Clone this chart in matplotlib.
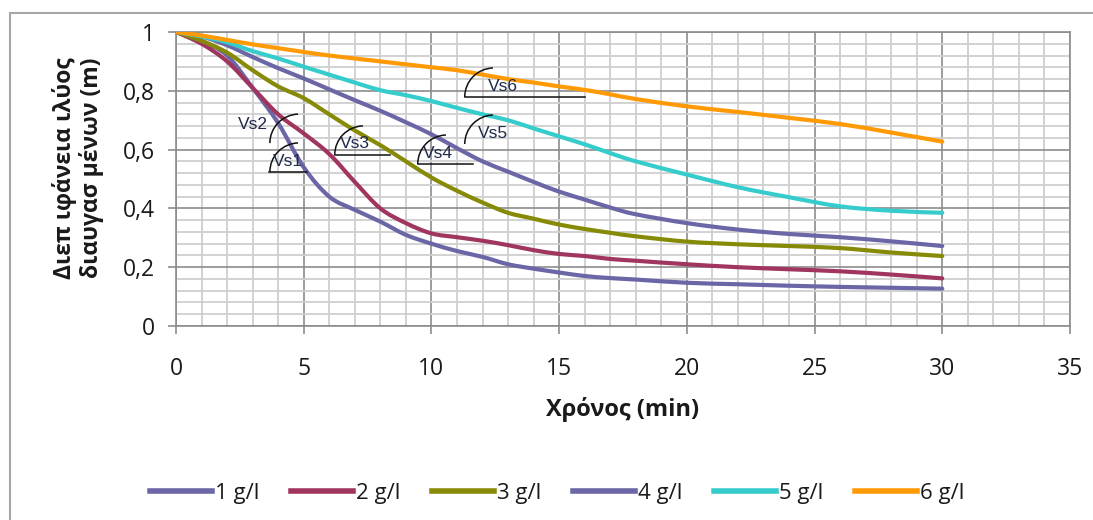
import matplotlib
matplotlib.use("Agg")
import matplotlib.pyplot as plt
from matplotlib.patches import Arc, PathPatch
from matplotlib.path import Path
from matplotlib.lines import Line2D
from matplotlib.ticker import MultipleLocator, FuncFormatter

plt.rcParams['font.family'] = ['Open Sans', 'DejaVu Sans']

# time (min)
time = [0, 1, 2, 3, 4, 5, 6, 7, 8, 9, 10, 11, 12, 13, 14, 15, 16, 17, 18,
        20, 22, 24, 26, 28, 30]

# interface height (m) for each concentration
h_1 = [1.0, 0.97, 0.92, 0.81, 0.69, 0.54, 0.44, 0.395, 0.355, 0.31, 0.28, 0.255,
       0.235, 0.21, 0.195, 0.182, 0.17, 0.163, 0.158, 0.147, 0.142, 0.137, 0.133,
       0.13, 0.127]
h_2 = [1.0, 0.96, 0.9, 0.81, 0.72, 0.655, 0.585, 0.49, 0.4, 0.35, 0.315, 0.302,
       0.29, 0.275, 0.258, 0.245, 0.238, 0.228, 0.222, 0.21, 0.2, 0.193, 0.186,
       0.175, 0.162]
h_3 = [1.0, 0.97, 0.93, 0.87, 0.815, 0.775, 0.72, 0.665, 0.615, 0.56, 0.505, 0.46,
       0.42, 0.385, 0.365, 0.345, 0.33, 0.317, 0.305, 0.287, 0.278, 0.272, 0.265,
       0.25, 0.238]
h_4 = [1.0, 0.985, 0.955, 0.915, 0.877, 0.842, 0.805, 0.768, 0.732, 0.693, 0.652,
       0.605, 0.56, 0.525, 0.49, 0.457, 0.43, 0.403, 0.38, 0.35, 0.328, 0.313,
       0.302, 0.288, 0.272]
h_5 = [1.0, 0.985, 0.965, 0.935, 0.91, 0.882, 0.855, 0.828, 0.802, 0.785, 0.765,
       0.742, 0.72, 0.7, 0.672, 0.645, 0.618, 0.588, 0.56, 0.515, 0.472, 0.438,
       0.407, 0.392, 0.385]
h_6 = [1.0, 0.988, 0.973, 0.958, 0.945, 0.932, 0.92, 0.91, 0.9, 0.89, 0.88, 0.87,
       0.855, 0.84, 0.828, 0.815, 0.803, 0.788, 0.772, 0.747, 0.728, 0.708, 0.687,
       0.658, 0.627]

series_labels = ['1 g/l', '2 g/l', '3 g/l', '4 g/l', '5 g/l', '6 g/l']
series_values = [h_1, h_2, h_3, h_4, h_5, h_6]
colors = ['#6b66a6', '#a0365f', '#878a07', '#6b66a6', '#36cccc', '#ff9a05']

x_ticks = [0, 5, 10, 15, 20, 25, 30, 35]
y_ticks = [0, 0.2, 0.4, 0.6, 0.8, 1.0]


def smooth_path(xs, ys, tension=1 / 6):
    """Cubic Bezier path through the points (Catmull-Rom style smoothing)."""
    verts = [(xs[0], ys[0])]
    codes = [Path.MOVETO]
    n = len(xs)
    for i in range(n - 1):
        x0, y0 = (xs[i - 1], ys[i - 1]) if i > 0 else (xs[i], ys[i])
        x1, y1 = xs[i], ys[i]
        x2, y2 = xs[i + 1], ys[i + 1]
        x3, y3 = (xs[i + 2], ys[i + 2]) if i + 2 < n else (x2, y2)
        c1 = (x1 + (x2 - x0) * tension, y1 + (y2 - y0) * tension)
        c2 = (x2 - (x3 - x1) * tension, y2 - (y3 - y1) * tension)
        verts += [c1, c2, (x2, y2)]
        codes += [Path.CURVE4] * 3
    return Path(verts, codes)


fig = plt.figure(figsize=(10.93, 5.20), dpi=100)
ax = fig.add_axes([176 / 1093, 1 - 326 / 520, (1070 - 176) / 1093, (326 - 32) / 520])

for vals, lab, col in zip(series_values, series_labels, colors):
    ax.add_patch(PathPatch(smooth_path(time, vals), facecolor='none', edgecolor=col,
                           lw=3.0, capstyle='round', joinstyle='round', zorder=3))
    ax.plot([], [], color=col, lw=4, label=lab)

ax.set_xlim(0, 35)
ax.set_ylim(0, 1)
ax.set_xticks(x_ticks)
ax.set_yticks(y_ticks)
ax.xaxis.set_minor_locator(MultipleLocator(1))
ax.yaxis.set_minor_locator(MultipleLocator(0.04))
ax.yaxis.set_major_formatter(FuncFormatter(
    lambda v, p: '1' if abs(v - 1) < 1e-9 else ('0' if abs(v) < 1e-9 else f'{v:.1f}'.replace('.', ','))))

ax.grid(which='minor', color='#cfcfcf', lw=1.3, zorder=0)
ax.grid(which='major', color='#8c8c8c', lw=1.2, zorder=1)
ax.set_axisbelow(True)
for s in ax.spines.values():
    s.set_color('#8c8c8c')
    s.set_linewidth(1.2)

ax.tick_params(which='major', direction='out', length=6, width=1.2, color='#8c8c8c',
               labelsize=16.5, labelcolor='#1a1a1a')
ax.tick_params(axis='x', which='major', pad=16)
ax.tick_params(axis='y', which='major', pad=9)
ax.tick_params(which='minor', length=0)

ax.set_xlabel('Χρόνος (min)', fontsize=17, fontweight='bold', labelpad=12, color='#1a1a1a')
fig.text(78 / 1093, 1 - 168 / 520, 'Διεπ ιφάνεια ιλύος\nδιαυγασ μένων (m)',
         rotation=90, ha='center', va='center', ma='center', fontsize=16.5,
         fontweight='bold', color='#1a1a1a', linespacing=1.1)

# settling-velocity markers: arc centre, optional baseline, label position
arc_rx = 29 * 35 / (1070 - 176)
arc_ry = 29 / 294
markers = [
    ('Vs1', (4.81, 0.524), (3.64, 5.11), (4.38, 0.558)),
    ('Vs2', (4.81, 0.622), None, (3.01, 0.687)),
    ('Vs3', (7.35, 0.582), (6.22, 8.37), (7.00, 0.622)),
    ('Vs4', (10.6, 0.551), (9.48, 11.63), (10.25, 0.588)),
    ('Vs5', (12.44, 0.619), None, (12.40, 0.656)),
    ('Vs6', (12.44, 0.779), (11.3, 16.0), (12.80, 0.813)),
]
for name, (cx, cy), base, (tx, ty) in markers:
    ax.add_patch(Arc((cx, cy), 2 * arc_rx, 2 * arc_ry, theta1=108, theta2=180,
                     color='#111111', lw=1.1, zorder=4))
    if base is not None:
        ax.plot(base, [cy, cy], color='#111111', lw=1.1, zorder=4)
    ax.text(tx, ty, name, fontsize=12.5, family=['Liberation Sans', 'DejaVu Sans'],
            color='#1f2a4a', ha='center', va='center', zorder=5)

leg = fig.legend(loc='center', bbox_to_anchor=(557 / 1093, 1 - 493 / 520), ncol=6,
                 frameon=False, fontsize=16, handlelength=2.8, handletextpad=0.1,
                 columnspacing=1.45)
for t in leg.get_texts():
    t.set_color('#1a1a1a')

# outer chart frame
fig.add_artist(Line2D([10 / 1093, 10 / 1093], [0, 1 - 13 / 520], color='#a6a6a6', lw=1.5))
fig.add_artist(Line2D([10 / 1093, 1], [1 - 13 / 520, 1 - 13 / 520], color='#a6a6a6', lw=1.5))

fig.savefig('out.png', dpi=100)
